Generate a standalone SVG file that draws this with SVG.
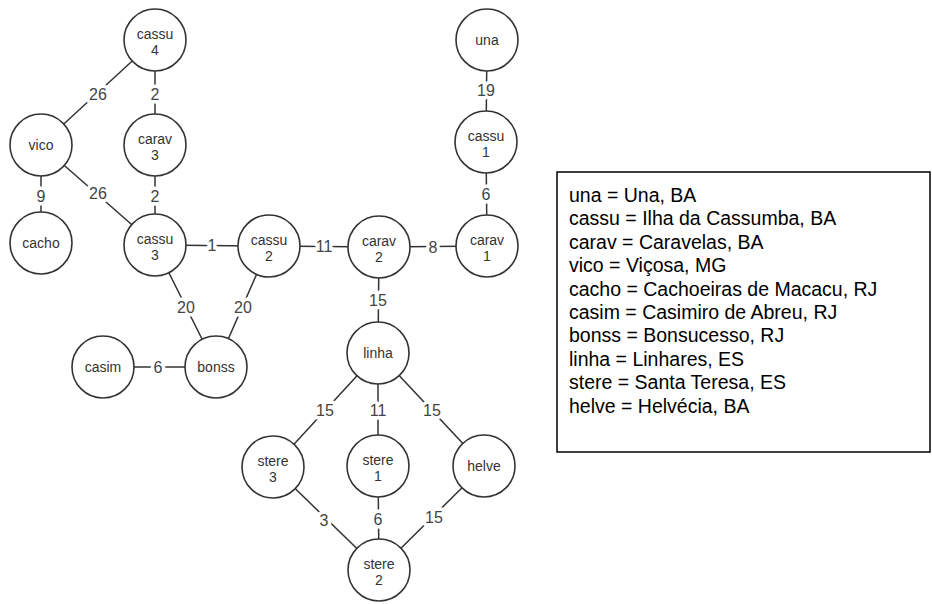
<svg xmlns="http://www.w3.org/2000/svg" width="932" height="604" viewBox="0 0 932 604">
<style>
.edge{stroke:#333;stroke-width:1.5;fill:none}
.node circle{fill:#fff;stroke:#333;stroke-width:1.6}
.node text{font-family:"Liberation Sans",Arial,sans-serif;font-size:14px;fill:#333;text-anchor:middle}
.el{font-family:"Liberation Sans",Arial,sans-serif;font-size:16px;fill:#444;text-anchor:middle;stroke:#fff;stroke-width:7;paint-order:stroke;stroke-linejoin:round}
.legend text{font-family:"Liberation Sans",Arial,sans-serif;font-size:19.5px;fill:#000}
</style>
<rect width="932" height="604" fill="#fff"/>
<g id="connectors">
<line class="edge" x1="155" y1="40" x2="41" y2="145"/>
<line class="edge" x1="155" y1="40" x2="155" y2="145"/>
<line class="edge" x1="41" y1="145" x2="41" y2="243"/>
<line class="edge" x1="41" y1="145" x2="155" y2="245"/>
<line class="edge" x1="155" y1="145" x2="155" y2="245"/>
<line class="edge" x1="155" y1="245" x2="269" y2="246"/>
<line class="edge" x1="155" y1="245" x2="216" y2="367"/>
<line class="edge" x1="269" y1="246" x2="216" y2="367"/>
<line class="edge" x1="103" y1="367" x2="216" y2="367"/>
<line class="edge" x1="269" y1="246" x2="379" y2="247"/>
<line class="edge" x1="379" y1="247" x2="487" y2="246"/>
<line class="edge" x1="487" y1="246" x2="486" y2="142"/>
<line class="edge" x1="486" y1="142" x2="487" y2="40"/>
<line class="edge" x1="379" y1="247" x2="378" y2="353"/>
<line class="edge" x1="378" y1="353" x2="273" y2="467"/>
<line class="edge" x1="378" y1="353" x2="378" y2="466"/>
<line class="edge" x1="378" y1="353" x2="484" y2="466"/>
<line class="edge" x1="273" y1="467" x2="379" y2="570"/>
<line class="edge" x1="378" y1="466" x2="379" y2="570"/>
<line class="edge" x1="484" y1="466" x2="379" y2="570"/>
<text class="el" x="98" y="100">26</text>
<text class="el" x="155" y="100">2</text>
<text class="el" x="41" y="202">9</text>
<text class="el" x="98" y="199">26</text>
<text class="el" x="155" y="202">2</text>
<text class="el" x="212" y="251">1</text>
<text class="el" x="186" y="313">20</text>
<text class="el" x="243" y="313">20</text>
<text class="el" x="158" y="373">6</text>
<text class="el" x="324" y="252">11</text>
<text class="el" x="433" y="253">8</text>
<text class="el" x="486" y="200">6</text>
<text class="el" x="486" y="96">19</text>
<text class="el" x="378" y="306">15</text>
<text class="el" x="325" y="416">15</text>
<text class="el" x="378" y="416">11</text>
<text class="el" x="432" y="416">15</text>
<text class="el" x="324" y="526">3</text>
<text class="el" x="378" y="525">6</text>
<text class="el" x="434" y="523">15</text>
</g>
<g id="cassu4" class="node"><circle cx="155" cy="40" r="31"/><text x="155" y="39">cassu</text><text x="155" y="55">4</text></g>
<g id="una" class="node"><circle cx="487" cy="40" r="31"/><text x="487" y="45">una</text></g>
<g id="vico" class="node"><circle cx="41" cy="145" r="31"/><text x="41" y="150">vico</text></g>
<g id="carav3" class="node"><circle cx="155" cy="145" r="31"/><text x="155" y="144">carav</text><text x="155" y="160">3</text></g>
<g id="cassu1" class="node"><circle cx="486" cy="142" r="31"/><text x="486" y="141">cassu</text><text x="486" y="157">1</text></g>
<g id="cacho" class="node"><circle cx="41" cy="243" r="31"/><text x="41" y="248">cacho</text></g>
<g id="cassu3" class="node"><circle cx="155" cy="245" r="31"/><text x="155" y="244">cassu</text><text x="155" y="260">3</text></g>
<g id="cassu2" class="node"><circle cx="269" cy="246" r="31"/><text x="269" y="245">cassu</text><text x="269" y="261">2</text></g>
<g id="carav2" class="node"><circle cx="379" cy="247" r="31"/><text x="379" y="246">carav</text><text x="379" y="262">2</text></g>
<g id="carav1" class="node"><circle cx="487" cy="246" r="31"/><text x="487" y="245">carav</text><text x="487" y="261">1</text></g>
<g id="linha" class="node"><circle cx="378" cy="353" r="31"/><text x="378" y="358">linha</text></g>
<g id="casim" class="node"><circle cx="103" cy="367" r="31"/><text x="103" y="372">casim</text></g>
<g id="bonss" class="node"><circle cx="216" cy="367" r="31"/><text x="216" y="372">bonss</text></g>
<g id="stere3" class="node"><circle cx="273" cy="467" r="31"/><text x="273" y="466">stere</text><text x="273" y="482">3</text></g>
<g id="stere1" class="node"><circle cx="378" cy="466" r="31"/><text x="378" y="465">stere</text><text x="378" y="481">1</text></g>
<g id="helve" class="node"><circle cx="484" cy="466" r="31"/><text x="484" y="471">helve</text></g>
<g id="stere2" class="node"><circle cx="379" cy="570" r="31"/><text x="379" y="569">stere</text><text x="379" y="585">2</text></g>
<g id="legend" class="legend">
<rect x="557" y="172" width="373" height="280" fill="#fff" stroke="#000" stroke-width="1.5"/>
<text x="569" y="202">una = Una, BA</text>
<text x="569" y="225.4">cassu = Ilha da Cassumba, BA</text>
<text x="569" y="248.8">carav = Caravelas, BA</text>
<text x="569" y="272.2">vico = Viçosa, MG</text>
<text x="569" y="295.6">cacho = Cachoeiras de Macacu, RJ</text>
<text x="569" y="319">casim = Casimiro de Abreu, RJ</text>
<text x="569" y="342.4">bonss = Bonsucesso, RJ</text>
<text x="569" y="365.8">linha = Linhares, ES</text>
<text x="569" y="389.2">stere = Santa Teresa, ES</text>
<text x="569" y="412.6">helve = Helvécia, BA</text>
</g>
</svg>
